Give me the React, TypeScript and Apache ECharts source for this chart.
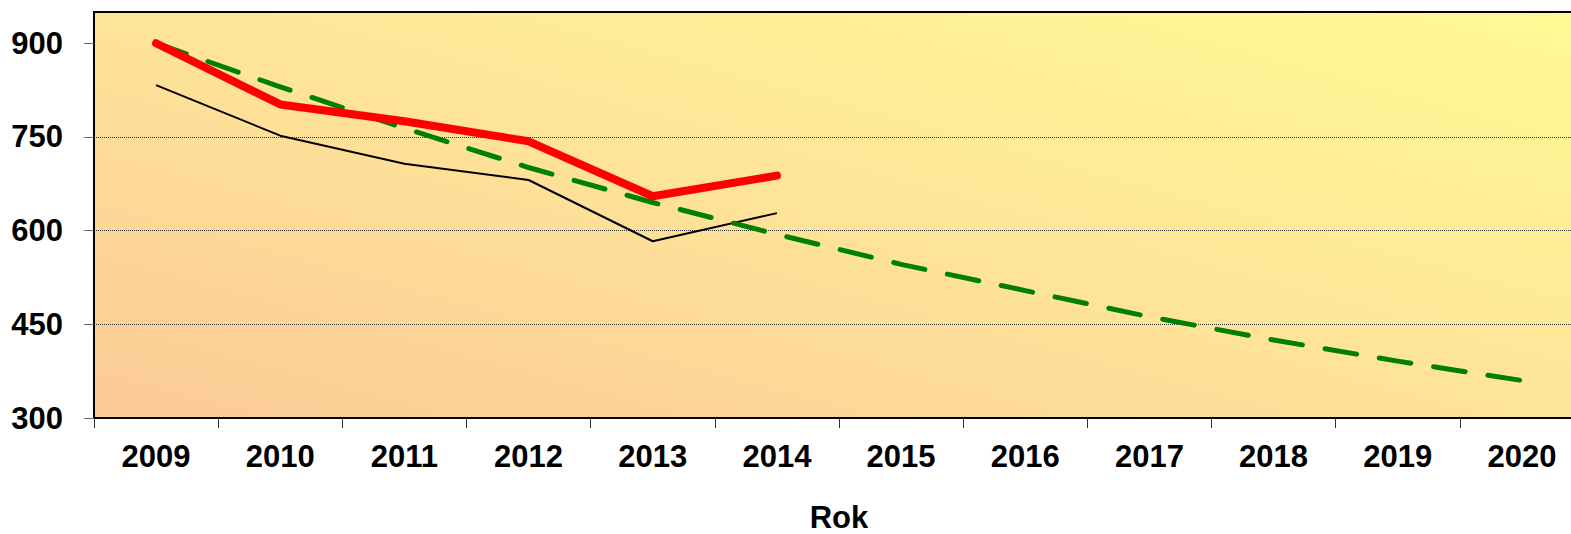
import React, { useEffect, useRef } from "react";
import * as echarts from "echarts";

const years = ["2009", "2010", "2011", "2012", "2013", "2014", "2015", "2016", "2017", "2018", "2019", "2020"];
const redSeries = [900, 802, 775, 743, 655, 688];
const blackSeries = [833, 752, 707, 681, 583, 628];
const greenSeries = [900, 830, 764, 701, 645, 594, 546, 504, 462, 425, 391, 360];
const yTicks = [300, 450, 600, 750, 900];
const xAxisName = "Rok";

const FONT = "'Liberation Sans', Arial, sans-serif";

export default function App() {
  const ref = useRef<HTMLDivElement>(null);
  useEffect(() => {
    if (!ref.current) return;
    const chart = echarts.init(ref.current, null, { renderer: "svg" });
    const bg = new echarts.graphic.LinearGradient(
      94, 418, 300, -338,
      [
        { offset: 0, color: "#FBC996" },
        { offset: 0.5, color: "#FEE499" },
        { offset: 1, color: "#FFFA94" },
      ],
      true
    );
    chart.setOption({
      animation: false,
      grid: {
        left: 94,
        top: 12,
        right: 16,
        bottom: 116,
        show: true,
        backgroundColor: bg,
        borderColor: "#000",
        borderWidth: 2,
        containLabel: false,
        outerBoundsMode: "none",
      },
      xAxis: {
        type: "category",
        data: years,
        boundaryGap: true,
        name: xAxisName,
        nameLocation: "middle",
        nameGap: 84,
        nameTextStyle: { fontFamily: FONT, fontSize: 31, fontWeight: "bold", color: "#000" },
        axisLine: { show: true, lineStyle: { color: "#000", width: 2 } },
        axisTick: { show: true, length: 10, alignWithLabel: false, lineStyle: { color: "#333", width: 1 } },
        axisLabel: { fontFamily: FONT, fontSize: 31, fontWeight: "bold", color: "#000", margin: 23, interval: 0 },
        splitLine: { show: false },
      },
      yAxis: {
        type: "value",
        min: 300,
        max: 950,
        interval: 150,
        axisLine: { show: true, lineStyle: { color: "#000", width: 2 } },
        axisTick: { show: true, length: 10, customValues: yTicks, lineStyle: { color: "#666", width: 1 } },
        axisLabel: {
          fontFamily: FONT,
          fontSize: 31,
          fontWeight: "bold",
          color: "#000",
          margin: 31,
          customValues: yTicks,
        },
        splitLine: {
          show: true,
          showMinLine: false,
          showMaxLine: false,
          lineStyle: { color: "#333", type: "dotted", width: 1 },
        },
      },
      series: [
        {
          type: "line",
          data: blackSeries,
          showSymbol: false,
          symbol: "none",
          lineStyle: { color: "#000", width: 2 },
          z: 2,
        },
        {
          type: "line",
          data: greenSeries,
          showSymbol: false,
          symbol: "none",
          lineStyle: { color: "#008000", width: 5, type: [32, 23], cap: "round", join: "round" },
          z: 3,
        },
        {
          type: "line",
          data: redSeries,
          showSymbol: false,
          symbol: "none",
          lineStyle: { color: "#FF0000", width: 8, cap: "round", join: "round" },
          z: 4,
        },
      ],
    });
    return () => chart.dispose();
  }, []);
  return (
    <div
      style={{ position: "absolute", left: 0, top: 0, width: 1571, height: 534, overflow: "hidden" }}
    >
      <div ref={ref} style={{ width: 1600, height: 534 }} />
    </div>
  );
}
